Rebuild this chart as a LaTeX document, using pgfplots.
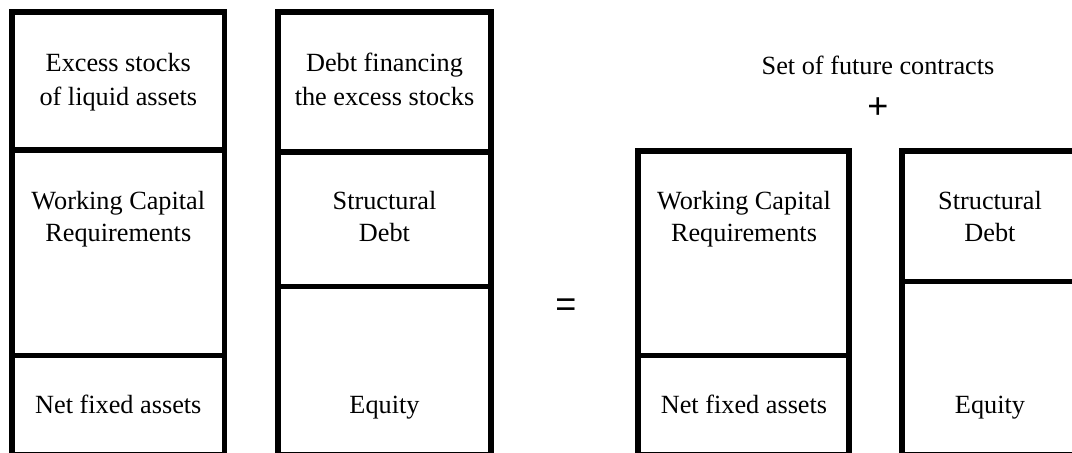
\documentclass[border=0pt]{standalone}
\usepackage{pgfplots}
\pgfplotsset{compat=1.18}
\usepackage{fontspec}
\setmainfont{Liberation Serif}
\newfontfamily\symfont{Liberation Sans}
\tikzset{txt/.style={font=\fontsize{19.7}{23}\selectfont, anchor=base, inner sep=0pt, text=black},
  sym/.style={font=\symfont\fontsize{27}{30}\selectfont, anchor=base, inner sep=0pt, text=black}}
\pgfplotsset{box/.style={draw=black, solid, line width=4.3pt, line join=miter, mark=none}}
\begin{document}
\begin{tikzpicture}
\useasboundingbox (0,0) rectangle (804pt,339.75pt);
\begin{axis}[at={(0,0)}, anchor=origin, x=0.75pt, y=0.75pt,
  xmin=0, xmax=1072, ymin=0, ymax=453, hide axis, clip=true]
% Box 1
\addplot[box] coordinates {(12.2,-2) (12.2,441) (224.5,441) (224.5,-2)} --cycle;
\addplot[box] coordinates {(12.2,303.3) (224.5,303.3)};
\addplot[box] coordinates {(12.2,97.5) (224.5,97.5)};
% Box 2
\addplot[box] coordinates {(278,-2) (278,441) (491,441) (491,-2)} --cycle;
\addplot[box] coordinates {(278,301.2) (491,301.2)};
\addplot[box] coordinates {(278,166.5) (491,166.5)};
% Box 3
\addplot[box] coordinates {(638,-2) (638,302) (849,302) (849,-2)} --cycle;
\addplot[box] coordinates {(638,97.5) (849,97.5)};
% Box 4
\addplot[box] coordinates {(902,-2) (902,302) (1110,302) (1110,-2)} --cycle;
\addplot[box] coordinates {(902,171.5) (1110,171.5)};
% Texts
\node[txt] at (axis cs:118.3,381) {Excess stocks};
\node[txt] at (axis cs:118.3,347) {of liquid assets};
\node[txt] at (axis cs:118.3,243) {Working Capital};
\node[txt] at (axis cs:118.3,211) {Requirements};
\node[txt] at (axis cs:118.3,39) {Net fixed assets};
\node[txt] at (axis cs:384.5,381) {Debt financing};
\node[txt] at (axis cs:384.5,347) {the excess stocks};
\node[txt] at (axis cs:384.5,243) {Structural};
\node[txt] at (axis cs:384.5,211) {Debt};
\node[txt] at (axis cs:384.5,39) {Equity};
\node[txt] at (axis cs:878,378.5) {Set of future contracts};
\node[sym] at (axis cs:878,334) {+};
\node[sym] at (axis cs:566,136.3) {=};
\node[txt] at (axis cs:744,243) {Working Capital};
\node[txt] at (axis cs:744,211) {Requirements};
\node[txt] at (axis cs:744,39) {Net fixed assets};
\node[txt] at (axis cs:990,243) {Structural};
\node[txt] at (axis cs:990,211) {Debt};
\node[txt] at (axis cs:990,39) {Equity};
\end{axis}
\end{tikzpicture}
\end{document}
